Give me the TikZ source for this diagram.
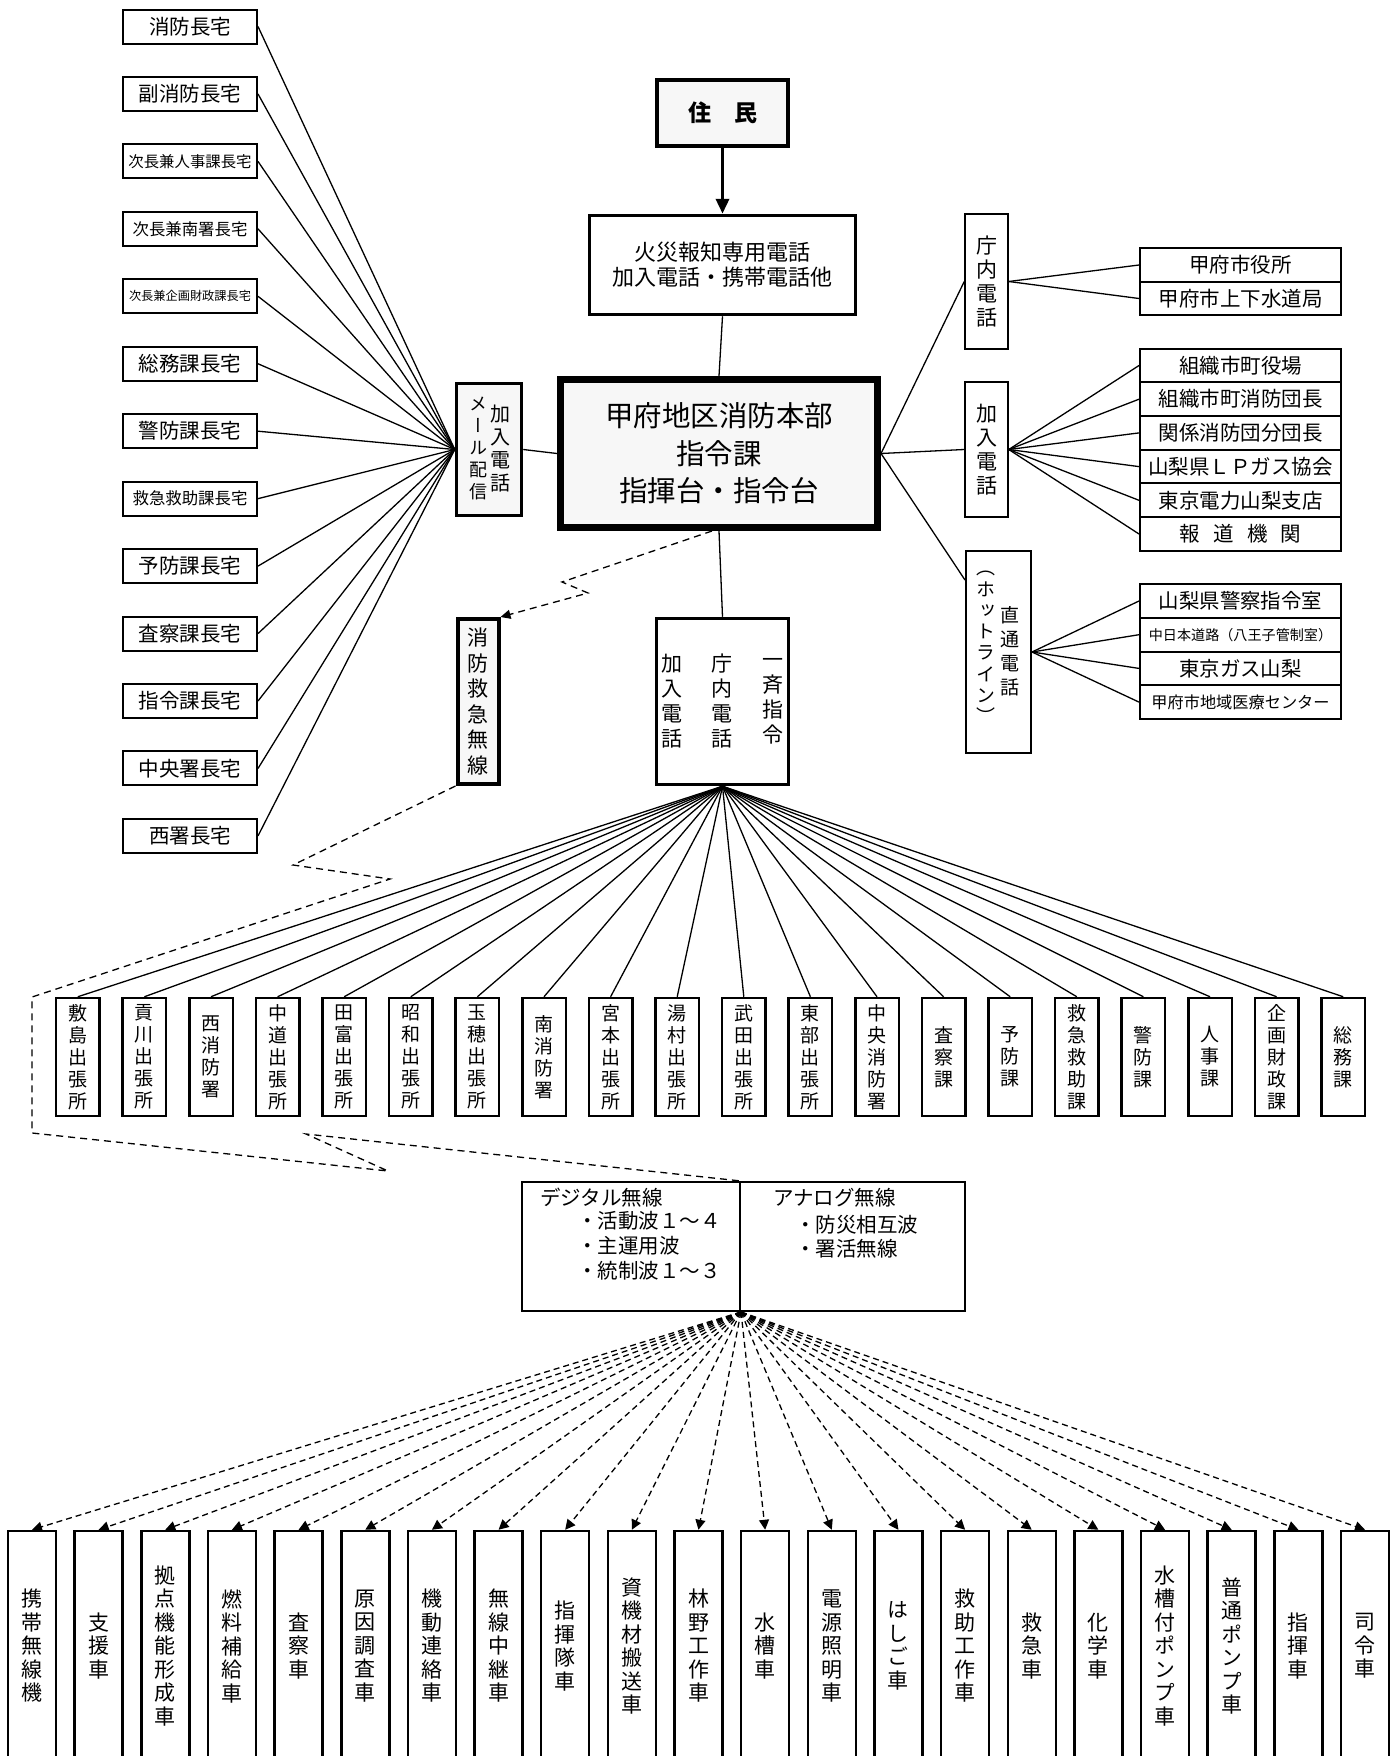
\documentclass[tikz,border=0pt]{standalone}
\usepackage{fontspec}
\setmainfont{Noto Sans CJK JP}
\newfontfamily\tatefont[Script=CJK,RawFeature=+vert]{Noto Sans CJK JP}
\usetikzlibrary{arrows.meta}
% stack the characters of a word one below the other
\def\tategobble#1{}
\def\tatekeep#1{#1}
\def\tate#1{\edef\tatelist{#1}\expandafter\tatefirst\tatelist\relax}
\def\tatefirst#1{#1\tateloop}
\def\tateloop#1{\ifx#1\relax\expandafter\tategobble\else\expandafter\tatekeep\fi{\\#1\tateloop}}

\begin{document}
\begin{tikzpicture}[x=1pt, y=-1pt,
  wire/.style={line width=1.3pt},
  radio/.style={line width=1.3pt, dash pattern=on 7pt off 5pt},
  box/.style={draw, line width=2pt, inner sep=0pt, align=center},
  heavybox/.style={box, line width=3.5pt},
  homebox/.style={box, minimum width=134pt, minimum height=34pt},
  listbox/.style={box, minimum width=201pt, minimum height=33.7pt, font=\fontsize{20.5}{24}\selectfont},
  stbox/.style={box, line width=2.5pt, minimum width=43.5pt, minimum height=118pt, font=\tatefont\fontsize{19}{22}\selectfont},
  carbox/.style={box, line width=2.5pt, minimum width=48pt, minimum height=230pt, font=\tatefont\fontsize{21}{23.5}\selectfont},
  column/.style={inner sep=0pt, align=center}]
  \useasboundingbox (0,0) rectangle (1399,1756);
  \clip (0,0) rectangle (1399,1756);
  \fill[white] (0,0) rectangle (1399,1756); % background

  % centre column
  \node[heavybox, line width=4pt, fill=black!3, minimum width=131pt, minimum height=66pt, font=\bfseries\fontsize{23}{26}\selectfont] (resident) at (722.5,113) {住　民};
  \node[heavybox, minimum width=266pt, minimum height=99pt, font=\fontsize{22}{25}\selectfont] (report) at (722.5,265) {火災報知専用電話\\加入電話・携帯電話他};
  \node[heavybox, line width=5pt, fill=black!3, minimum width=319pt, minimum height=150pt, font=\fontsize{28.5}{37.5}\selectfont] (hq) at (719,453.5) {甲府地区消防本部\\指令課\\指揮台・指令台};
  \draw[line width=1.2pt] ([shift={(6,6)}]hq.north west) rectangle ([shift={(-6,-6)}]hq.south east); % inner frame
  \node[heavybox, minimum width=132pt, minimum height=166pt] (relay) at (722.5,701.5) {};
  \foreach \t/\x [count=\i] in {加入電話/672, 庁内電話/722, 一斉指令/773}
    \node[column, font=\tatefont\fontsize{21}{25}\selectfont] (relay\i) at (\x,701.5) {\tate{\t}};

  \draw[line width=3.5pt, -{Triangle[length=15pt,width=13pt]}] (resident.south) -- (report.north);
  \draw[wire] (report.south) -- (hq.north);
  \draw[wire] (hq.south) -- (relay.north);

  % mail box and the homes
  \node[heavybox, fill=black!3, minimum width=65pt, minimum height=132pt] (mail) at (489,449.5) {};
  \node[column, font=\tatefont\fontsize{20}{23}\selectfont] (mailtel) at (500,448.5) {\tate{加入電話}};
  \node[column, font=\tatefont\fontsize{18}{22}\selectfont] (mailmsg) at (478,448) {\tate{メール配信}};
  \draw[wire] (mail.east) -- (hq.west);
  \foreach \t/\s [count=\i from 0] in {消防長宅/20.5, 副消防長宅/20.5, 次長兼人事課長宅/15.4, 次長兼南署長宅/16.4, 次長兼企画財政課長宅/12.2, 総務課長宅/20.5, 警防課長宅/20.5, 救急救助課長宅/16.4, 予防課長宅/20.5, 査察課長宅/20.5, 指令課長宅/20.5, 中央署長宅/20.5, 西署長宅/20.5}
  {
    \node[homebox, font=\fontsize{\s}{24}\selectfont] (home\i) at (190,26.5+67.45*\i) {\t};
    \draw[wire] (home\i.east) -- (mail.west);
  }

  % right side
  \node[box, minimum width=42.5pt, minimum height=135pt, font=\tatefont\fontsize{21}{24}\selectfont] (inhouse) at (986.5,281.5) {\tate{庁内電話}};
  \node[box, minimum width=42.5pt, minimum height=135pt, font=\tatefont\fontsize{21}{24}\selectfont] (dialup) at (986.5,449.5) {\tate{加入電話}};
  \node[box, minimum width=65pt, minimum height=202pt] (hotline) at (998.5,652) {};
  \node[column, font=\tatefont\fontsize{19}{24}\selectfont] (direct) at (1010,651) {\tate{直通電話}};
  \node[column, font=\tatefont\fontsize{19}{21.3}\selectfont] (hotname) at (986,647.5) {\tate{（ホットライン）}};
  \draw[wire] (hq.east) -- (inhouse.west);
  \draw[wire] (hq.east) -- (dialup.west);
  \draw[wire] (hq.east) -- ([yshift=-30pt]hotline.north west);

  \node[listbox] (city) at (1240.5,265) {甲府市役所};
  \node[listbox] (sewer) at (1240.5,298.5) {甲府市上下水道局};
  \draw[wire] (inhouse.east) -- (city.west);
  \draw[wire] (inhouse.east) -- (sewer.west);
  \foreach \t [count=\i from 0] in {組織市町役場, 組織市町消防団長, 関係消防団分団長, 山梨県ＬＰガス協会, 東京電力山梨支店, 報\hspace{.65em}道\hspace{.65em}機\hspace{.65em}関}
  {
    \node[listbox] (sub\i) at (1240.5,365.5+33.7*\i) {\t};
    \draw[wire] (dialup.east) -- (sub\i.west);
  }
  \foreach \t/\s [count=\i from 0] in {山梨県警察指令室/20.4, 中日本道路（八王子管制室）/14.1, 東京ガス山梨/20.4, 甲府市地域医療センター/16.2}
  {
    \node[listbox, font=\fontsize{\s}{24}\selectfont] (hot\i) at (1240.5,601+33.7*\i) {\t};
    \draw[wire] (hotline.east) -- (hot\i.west);
  }

  % radio
  \node[heavybox, line width=4pt, fill=black!3, minimum width=41pt, minimum height=165pt, font=\tatefont\fontsize{21}{25.5}\selectfont] (wireless) at (478,701.5) {\tate{消防救急無線}};
  \draw[radio, -{Triangle[length=10pt,width=9pt]}] ([xshift=-7pt]hq.south) -- (562,582) -- (588,593) -- (wireless.north east);

  % stations
  \foreach \t [count=\i from 0] in {敷島出張所, 貢川出張所, 西消防署, 中道出張所, 田富出張所, 昭和出張所, 玉穂出張所, 南消防署, 宮本出張所, 湯村出張所, 武田出張所, 東部出張所, 中央消防署, 査察課, 予防課, 救急救助課, 警防課, 人事課, 企画財政課, 総務課}
  {
    \node[stbox] (st\i) at (77.8+66.6*\i,1057) {\tate{\t}};
    \draw[wire] (relay.south) -- (st\i.north);
  }

  % wave box
  \node[box, minimum width=218pt, minimum height=129pt] (digital) at (631,1246.5) {};
  \node[box, minimum width=225pt, minimum height=129pt] (analog) at (852.5,1246.5) {};
  \foreach \t/\x/\y [count=\i] in {デジタル無線/540/1205, ・活動波１～４/577/1228, ・主運用波/577/1253, ・統制波１～３/577/1278, アナログ無線/773/1205, ・防災相互波/795/1232, ・署活無線/795/1256}
    \node[anchor=base west, inner sep=0pt, font=\fontsize{20.5}{24}\selectfont] (wave\i) at (\x,\y) {\t};
  \draw[radio] (wireless.south west) -- (293,865) -- (390,879) -- (32,997) -- (32,1133) -- (388,1171) -- (306,1134) -- (digital.north east);

  % vehicles
  \foreach \t [count=\i from 0] in {携帯無線機, 支援車, 拠点機能形成車, 燃料補給車, 査察車, 原因調査車, 機動連絡車, 無線中継車, 指揮隊車, 資機材搬送車, 林野工作車, 水槽車, 電源照明車, はしご車, 救助工作車, 救急車, 化学車, 水槽付ポンプ車, 普通ポンプ車, 指揮車, 司令車}
  {
    \node[carbox] (car\i) at (32+66.65*\i,1646) {\tate{\t}};
    \draw[radio, dash pattern=on 6pt off 4pt, -{Triangle[length=10pt,width=10pt]}] (digital.south east) -- (car\i.north);
  }
\end{tikzpicture}
\end{document}
